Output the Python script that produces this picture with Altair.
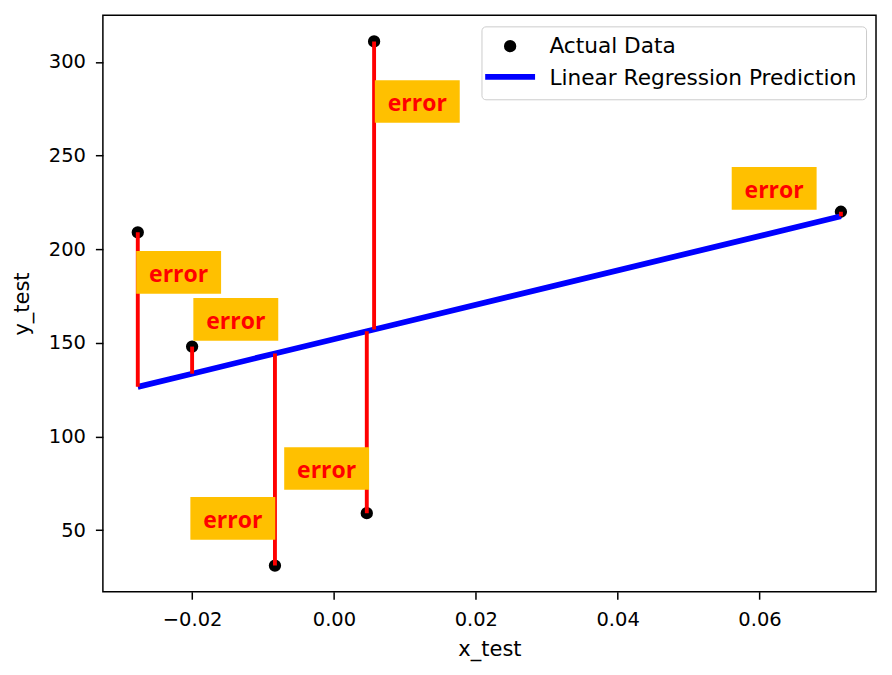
import altair as alt
import pandas as pd

# ---- data ----
x_test = [-0.02766, -0.02000, -0.00832, 0.00463, 0.00566, 0.07148]
y_test = [209, 148, 31, 59, 311, 220]
y_pred = [126.5, 133.5, 144.3, 156.2, 157.1, 217.6]

label_x = [-0.02190, -0.01384, -0.01426, -0.00103, 0.01175, 0.06207]
label_y = [187.6, 162.5, 56.2, 82.9, 278.9, 232.5]
label_text = ["error", "error", "error", "error", "error", "error"]

series_names = ["Actual Data", "Linear Regression Prediction"]

x_domain = [-0.03258, 0.07643]
y_domain = [17.06, 324.9]
x_ticks = [-0.02, 0.0, 0.02, 0.04, 0.06]
y_ticks = [50, 100, 150, 200, 250, 300]

# ---- tables ----
pts = pd.DataFrame({"x": x_test, "y": y_test, "series": series_names[0]})
line_df = pd.DataFrame({"x": x_test, "y": y_pred, "series": series_names[1]})
err = pd.DataFrame({"x": x_test, "y": y_test, "y2": y_pred})
lab = pd.DataFrame({"x": label_x, "y": label_y, "text": label_text})

X = alt.X("x:Q", scale=alt.Scale(domain=x_domain, nice=False, zero=False),
          axis=alt.Axis(values=x_ticks, format=".2f", title="x_test",
                        labelPadding=11, titlePadding=10))
Y = alt.Y("y:Q", scale=alt.Scale(domain=y_domain, nice=False, zero=False),
          axis=alt.Axis(values=y_ticks, format="d", title="y_test",
                        labelPadding=10, titlePadding=16))

common = dict(
    title=None, orient="none", legendX=379, padding=9,
    labelFont="DejaVu Sans", labelFontSize=21.7, labelLimit=600,
    symbolSize=152, symbolOffset=8.85, labelOffset=28.45, rowPadding=9.1,
    symbolOpacity=1,
)
# framed legend: both labels, dot for the data
legend_a = alt.Legend(
    legendY=11, cornerRadius=4, strokeColor="#cccccc",
    fillColor="rgba(255,255,255,0.8)", labelColor="black",
    symbolType="circle", symbolStrokeColor="transparent", symbolStrokeWidth=0,
    zindex=1, **common)
# overlay legend: the blue line handle in the second row
legend_b = alt.Legend(
    legendY=41.8, strokeColor="transparent", fillColor="transparent",
    labelColor="transparent", symbolType="M-4.05,0L4.05,0",
    symbolFillColor="transparent", symbolStrokeWidth=5.8,
    zindex=2, **common)

F = alt.Fill("series:N", scale=alt.Scale(domain=series_names, range=["black", "transparent"]),
             legend=legend_a)
S = alt.Stroke("series:N", scale=alt.Scale(range=["blue"]), legend=legend_b)

points = alt.Chart(pts).mark_circle(size=152, opacity=1).encode(x=X, y=Y, fill=F)
line = alt.Chart(line_df).mark_line(strokeWidth=5.8).encode(x=X, y=Y, stroke=S)
rules = alt.Chart(err).mark_rule(color="red", strokeWidth=3.9).encode(
    x=X, y=Y, y2=alt.Y2("y2:Q"))
boxes = alt.Chart(lab).mark_point(
    shape="M-1,-0.502L1,-0.502L1,0.502L-1,0.502Z", size=7225, filled=True,
    color="#FFC000", opacity=1, strokeWidth=0).encode(x=X, y=Y)
texts = alt.Chart(lab).mark_text(
    font="Open Sans", fontWeight="bold", fontSize=23, color="red",
    align="center", baseline="middle", dy=3).encode(x=X, y=Y, text="text:N")

chart = alt.layer(points, line, rules, boxes, texts).properties(
    width=774, height=577,
    autosize=alt.AutoSizeParams(type="none"),
    padding={"left": 95, "top": 7, "right": 8, "bottom": 80},
).configure_view(stroke="black", strokeWidth=1.5).configure_axis(
    domain=False, grid=False, tickColor="black", tickWidth=1.5, tickSize=7.5,
    labelFont="DejaVu Sans", labelFontSize=19.5, labelColor="black",
    titleFont="DejaVu Sans", titleFontSize=21, titleColor="black",
    titleFontWeight="normal",
)

chart.save("out.html", embed_options={"renderer": "svg", "actions": False})
